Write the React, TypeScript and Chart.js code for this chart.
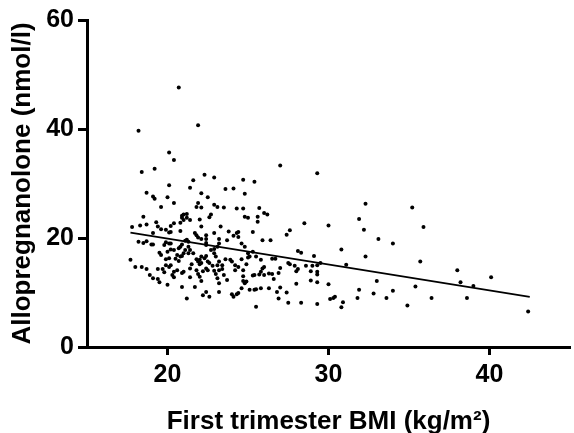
import React, { useEffect, useRef } from "react";
import { Chart, registerables } from "chart.js";

Chart.register(...registerables);

const xTickValues = [20, 30, 40];
const yTickValues = [0, 20, 40, 60];
const xTitle = "First trimester BMI (kg/m²)";
const yTitle = "Allopregnanolone (nmol/l)";

// regression line end points [BMI, allopregnanolone]
const fitBmi = [17.7, 42.5];
const fitAllo = [21.0, 9.2];

// [BMI, allopregnanolone] pairs
const highPoints = [
  [20.7, 47.6], [18.2, 39.7], [21.9, 40.7], [20.1, 35.7], [20.4, 34.3], [18.4, 32.1], [19.2, 32.7],
  [22.3, 31.6], [22.9, 31.1], [21.6, 30.6], [24.7, 30.7], [25.4, 30.3], [20.1, 29.7], [21.4, 29.2],
  [23.6, 29.0], [24.1, 29.1], [18.7, 28.3], [19.1, 27.6], [19.2, 27.2], [20.0, 27.5], [22.1, 28.2],
  [22.5, 27.5], [24.8, 28.1], [20.4, 26.4], [19.6, 25.7], [21.9, 26.4], [21.8, 25.7], [22.1, 25.6],
  [22.9, 26.1], [23.1, 25.7], [23.5, 25.6], [24.3, 25.4], [24.7, 25.4], [25.7, 25.5], [27.0, 33.3],
  [29.3, 31.9], [32.3, 26.3], [35.2, 25.6],
];

const upperCluster = [
  [18.5, 23.9], [17.8, 22.0], [18.3, 22.3], [18.7, 22.5], [19.3, 22.9], [19.4, 22.1], [19.1, 20.9],
  [19.6, 21.6], [19.9, 21.5], [20.2, 22.2], [20.4, 22.7], [20.8, 22.8], [20.9, 23.7], [20.9, 24.1],
  [21.0, 24.3], [21.2, 24.4], [21.0, 23.3], [21.2, 23.7], [21.4, 23.3], [20.1, 21.0], [20.2, 21.1],
  [20.8, 21.3], [21.7, 20.9], [21.8, 20.5], [22.0, 23.4], [22.1, 22.1], [22.7, 24.3], [22.6, 23.8],
  [22.4, 20.5], [22.4, 19.8], [22.9, 20.9], [23.3, 22.1], [23.8, 21.2], [24.1, 20.4], [24.3, 20.9],
  [24.4, 21.1], [24.8, 23.9], [25.0, 23.7], [25.6, 23.9], [25.6, 23.0], [25.3, 21.1], [25.9, 19.6],
  [26.0, 24.6], [26.2, 24.3], [26.4, 19.6], [27.6, 21.4], [27.4, 20.6], [28.5, 22.7], [30.0, 22.3],
  [31.9, 23.5], [32.2, 21.5], [33.1, 19.8], [34.0, 19.0], [35.9, 22.0], [21.9, 20.1], [22.1, 19.8],
];

const midCluster = [
  [18.2, 19.3], [18.5, 19.1], [18.7, 19.4], [19.0, 18.8], [19.1, 18.8], [19.8, 18.7], [19.9, 19.2],
  [20.1, 19.0], [20.2, 19.0], [19.5, 17.3], [19.6, 16.9], [20.0, 17.5], [20.2, 17.9], [20.4, 17.8],
  [20.7, 18.1], [20.8, 18.4], [20.9, 18.8], [21.1, 19.5], [21.2, 19.7], [21.3, 19.3], [20.6, 16.9],
  [20.8, 16.6], [20.5, 16.2], [20.7, 15.8], [20.9, 16.7], [21.0, 17.2], [21.1, 17.8], [19.9, 16.1],
  [20.1, 16.3], [19.9, 15.0], [20.1, 14.7], [21.3, 18.4], [21.4, 17.8], [21.3, 17.2], [21.6, 17.2],
  [22.4, 19.1], [22.4, 18.7], [22.7, 17.8], [22.9, 18.0], [23.1, 18.4], [23.2, 19.8], [23.2, 19.0],
  [22.9, 17.2], [23.7, 19.6], [24.4, 20.2], [24.6, 19.0], [24.8, 18.4], [25.0, 17.2], [25.1, 16.6],
  [25.3, 17.5], [25.5, 16.6], [25.8, 16.0], [21.4, 14.4], [21.5, 15.2], [21.8, 16.1], [21.9, 15.7],
  [22.0, 16.0], [22.1, 16.6], [22.3, 16.3], [22.4, 16.7], [22.5, 15.7], [22.6, 15.4], [22.0, 15.2],
  [22.4, 14.4], [23.0, 16.6], [23.1, 15.0], [23.4, 14.3], [23.2, 14.1], [22.5, 14.1], [22.8, 14.9],
  [22.9, 14.0], [23.0, 13.4], [23.2, 15.7], [23.4, 15.0], [23.6, 16.1], [23.9, 16.0], [24.0, 15.7],
  [24.2, 15.0], [24.2, 14.1], [24.4, 14.7], [24.7, 14.1], [24.6, 16.1], [24.9, 15.2], [25.0, 16.4],
  [22.1, 15.4], [20.2, 15.0], [26.5, 16.2], [26.7, 16.2], [28.1, 17.6], [28.3, 17.3], [29.1, 16.7],
  [30.8, 17.9], [32.3, 16.6], [35.7, 15.7], [27.5, 15.4], [27.6, 15.2], [27.9, 14.9], [28.6, 14.9],
  [29.0, 14.9], [29.3, 15.0], [29.5, 15.4], [31.1, 15.1],
];

const lowCluster = [
  [17.7, 16.0], [18.0, 14.7], [18.4, 14.7], [18.7, 14.3], [18.9, 13.2], [19.4, 14.3], [19.5, 11.9],
  [20.0, 11.4], [20.9, 11.0], [21.2, 8.9], [20.4, 13.8], [20.6, 14.1], [20.9, 13.6], [21.0, 13.8],
  [21.4, 12.8], [21.7, 11.0], [22.1, 12.1], [22.2, 9.5], [21.8, 14.1], [21.9, 13.4], [22.0, 12.9],
  [22.2, 13.9], [23.2, 11.7], [22.4, 10.1], [24.0, 9.7], [24.1, 9.2], [24.4, 9.9], [24.8, 11.7],
  [24.9, 12.0], [25.5, 10.6], [25.4, 10.5], [25.8, 10.8], [25.1, 10.5], [25.5, 7.4], [24.7, 13.0],
  [25.4, 13.2], [26.0, 13.2], [23.5, 13.2], [23.7, 12.3], [23.1, 12.6], [22.6, 9.2], [23.2, 10.1],
  [26.0, 14.7], [25.8, 13.8], [19.1, 12.6], [19.4, 12.5], [19.7, 14.3], [19.8, 13.7], [20.3, 13.2],
  [20.4, 12.8], [25.3, 13.1], [25.7, 13.3], [26.3, 13.5], [24.7, 12.1], [24.6, 10.8], [24.3, 9.7],
  [26.3, 10.8], [25.9, 14.4],
];

const rightTail = [
  [27.0, 14.5], [26.9, 13.6], [28.1, 14.3], [28.0, 13.9], [28.9, 13.9], [29.3, 13.8], [29.3, 13.3],
  [26.5, 13.4], [26.6, 12.5], [28.0, 11.6], [28.9, 12.2], [29.3, 11.9], [30.0, 11.5], [33.0, 12.1],
  [27.0, 10.9], [26.8, 10.1], [27.4, 10.0], [31.9, 10.5], [34.0, 10.3], [32.8, 9.8], [33.6, 9.0],
  [26.9, 8.9], [30.1, 8.8], [30.3, 9.0], [30.4, 9.2], [31.8, 9.0], [27.5, 8.1], [28.3, 8.1],
  [29.3, 7.9], [30.9, 8.2], [30.8, 7.3], [38.0, 14.1], [40.1, 12.8], [38.2, 11.9], [39.0, 11.2],
  [35.4, 11.1], [36.4, 9.0], [38.6, 9.0], [34.9, 7.6], [42.4, 6.5],
];

const FONT = "'Liberation Sans', Arial, Helvetica, sans-serif";

export default function App() {
  const canvasRef = useRef<HTMLCanvasElement | null>(null);

  useEffect(() => {
    const canvas = canvasRef.current;
    if (!canvas) return;
    const scatter = [...highPoints, ...upperCluster, ...midCluster, ...lowCluster, ...rightTail].map(
      ([x, y]) => ({ x, y })
    );
    const fit = fitBmi.map((x, i) => ({ x, y: fitAllo[i] }));

    const chart = new Chart(canvas, {
      type: "scatter",
      data: {
        datasets: [
          {
            data: scatter,
            pointRadius: 2,
            pointBackgroundColor: "#000",
            pointBorderColor: "#000",
            pointBorderWidth: 0,
            showLine: false,
          },
          {
            data: fit,
            showLine: true,
            borderColor: "#000",
            borderWidth: 1.8,
            pointRadius: 0,
            fill: false,
          },
        ],
      },
      options: {
        responsive: false,
        animation: false,
        events: [],
        layout: { padding: { top: 20, right: 0, bottom: 0, left: 0 } },
        plugins: { legend: { display: false }, tooltip: { enabled: false } },
        scales: {
          x: {
            type: "linear",
            min: 15,
            max: 45,
            afterBuildTicks: (s: any) => {
              s.ticks = xTickValues.map((v) => ({ value: v }));
            },
            afterFit: (s: any) => {
              s.height = 86;
            },
            grid: {
              display: true,
              drawOnChartArea: false,
              drawTicks: true,
              tickLength: 8,
              tickWidth: 3,
              tickColor: "#000",
            },
            border: { display: true, width: 3, color: "#000" },
            ticks: {
              color: "#000",
              font: { family: FONT, size: 25, weight: "bold" },
              padding: 5,
              maxRotation: 0,
              autoSkip: false,
            },
            title: {
              display: true,
              text: xTitle,
              color: "#000",
              font: { family: FONT, size: 26, weight: "bold" },
              padding: { top: 0, bottom: -4 },
            },
          },
          y: {
            type: "linear",
            min: 0,
            max: 60,
            afterBuildTicks: (s: any) => {
              s.ticks = yTickValues.map((v) => ({ value: v }));
            },
            afterFit: (s: any) => {
              s.width = 87;
            },
            grid: {
              display: true,
              drawOnChartArea: false,
              drawTicks: true,
              tickLength: 9,
              tickWidth: 3,
              tickColor: "#000",
            },
            border: { display: true, width: 3, color: "#000" },
            ticks: {
              color: "#000",
              font: { family: FONT, size: 25, weight: "bold" },
              padding: 4,
              autoSkip: false,
            },
            title: {
              display: true,
              text: yTitle,
              color: "#000",
              font: { family: FONT, size: 26, weight: "bold" },
              padding: { top: 7, bottom: 0 },
            },
          },
        },
      },
    } as any);

    return () => chart.destroy();
  }, []);

  return (
    <div style={{ position: "absolute", left: 0, top: 0, width: 574, height: 433, background: "#fff" }}>
      <canvas ref={canvasRef} width={574} height={433} style={{ display: "block" }} />
    </div>
  );
}
